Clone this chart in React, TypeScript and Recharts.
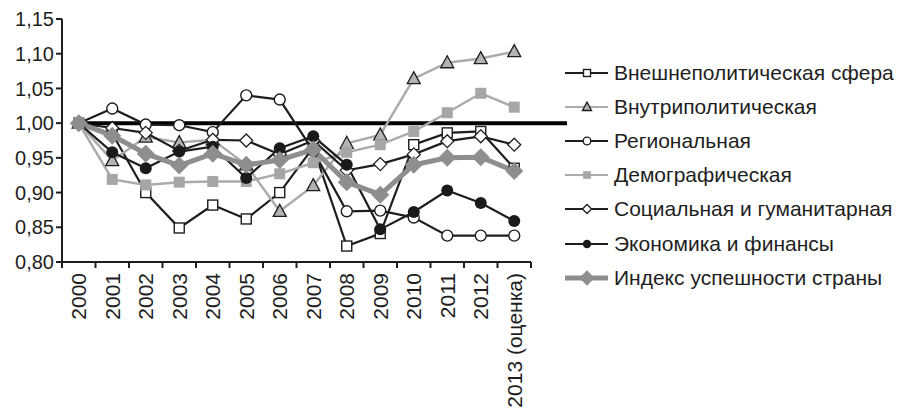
import { LineChart, Line, XAxis, YAxis, ReferenceLine } from 'recharts';

const YEARS = ['2000', '2001', '2002', '2003', '2004', '2005', '2006', '2007', '2008', '2009', '2010', '2011', '2012', '2013 (оценка)'];
const Y_TICKS = [0.8, 0.85, 0.9, 0.95, 1.0, 1.05, 1.1, 1.15];

const FOREIGN = [1.0, 0.985, 0.9, 0.849, 0.882, 0.862, 0.9, 0.965, 0.823, 0.841, 0.969, 0.986, 0.988, 0.935];
const INTERNAL = [1.0, 0.946, 0.98, 0.972, 0.976, 0.94, 0.873, 0.91, 0.971, 0.983, 1.064, 1.087, 1.093, 1.103];
const REGIONAL = [1.0, 1.021, 0.998, 0.997, 0.987, 1.04, 1.034, 0.96, 0.873, 0.874, 0.864, 0.838, 0.838, 0.838];
const DEMOGRAPHIC = [1.0, 0.919, 0.911, 0.915, 0.916, 0.916, 0.927, 0.943, 0.958, 0.969, 0.988, 1.015, 1.043, 1.023];
const SOCIAL = [1.0, 0.993, 0.986, 0.96, 0.976, 0.975, 0.955, 0.975, 0.932, 0.941, 0.955, 0.974, 0.981, 0.969];
const ECONOMY = [1.0, 0.958, 0.935, 0.959, 0.966, 0.921, 0.964, 0.981, 0.94, 0.847, 0.872, 0.903, 0.885, 0.859];
const INDEX = [1.0, 0.982, 0.956, 0.939, 0.956, 0.94, 0.947, 0.962, 0.915, 0.897, 0.94, 0.95, 0.951, 0.931];

type MarkerKind = 'square' | 'triangle' | 'circle' | 'graySquare' | 'diamond' | 'dot' | 'bigDiamond';

const SERIES: { key: string; name: string; values: number[]; color: string; width: number; marker: MarkerKind }[] = [
  { key: 'foreign', name: 'Внешнеполитическая сфера', values: FOREIGN, color: '#1e1e1e', width: 2.2, marker: 'square' },
  { key: 'internal', name: 'Внутриполитическая', values: INTERNAL, color: '#ababab', width: 2.5, marker: 'triangle' },
  { key: 'regional', name: 'Региональная', values: REGIONAL, color: '#1e1e1e', width: 2.2, marker: 'circle' },
  { key: 'demographic', name: 'Демографическая', values: DEMOGRAPHIC, color: '#ababab', width: 2.5, marker: 'graySquare' },
  { key: 'social', name: 'Социальная и гуманитарная', values: SOCIAL, color: '#1e1e1e', width: 2.2, marker: 'diamond' },
  { key: 'economy', name: 'Экономика и финансы', values: ECONOMY, color: '#1e1e1e', width: 2.2, marker: 'dot' },
  { key: 'index', name: 'Индекс успешности страны', values: INDEX, color: '#8e8e8e', width: 5, marker: 'bigDiamond' },
];

const data = YEARS.map((year, i) => {
  const row: Record<string, string | number> = { year };
  SERIES.forEach((s) => {
    row[s.key] = s.values[i];
  });
  return row;
});

const W = 899;
const H = 410;
const MARGIN = { top: 19, right: 368, bottom: 8, left: 0 };
const Y_AXIS_W = 62;
const BAND = (W - MARGIN.right - MARGIN.left - Y_AXIS_W) / YEARS.length;
const FONT = '"Liberation Sans", Arial, sans-serif';

function Marker({ kind, cx, cy, s = 1 }: { kind: MarkerKind; cx: number; cy: number; s?: number }) {
  switch (kind) {
    case 'square':
      return <rect x={cx - 5 * s} y={cy - 5 * s} width={10 * s} height={10 * s} fill="#fff" stroke="#1e1e1e" strokeWidth={1.4} />;
    case 'triangle':
      return (
        <polygon
          points={`${cx},${cy - 7 * s} ${cx - 6.5 * s},${cy + 5 * s} ${cx + 6.5 * s},${cy + 5 * s}`}
          fill="#b3b3b3"
          stroke="#1e1e1e"
          strokeWidth={1.3}
        />
      );
    case 'circle':
      return <circle cx={cx} cy={cy} r={5.5 * s} fill="#fff" stroke="#1e1e1e" strokeWidth={1.4} />;
    case 'graySquare':
      return <rect x={cx - 5.5 * s} y={cy - 5.5 * s} width={11 * s} height={11 * s} fill="#a6a6a6" />;
    case 'diamond':
      return (
        <polygon
          points={`${cx},${cy - 6.5 * s} ${cx + 6.5 * s},${cy} ${cx},${cy + 6.5 * s} ${cx - 6.5 * s},${cy}`}
          fill="#fff"
          stroke="#1e1e1e"
          strokeWidth={1.3}
        />
      );
    case 'dot':
      return <circle cx={cx} cy={cy} r={6 * s} fill="#1a1a1a" />;
    case 'bigDiamond':
      return (
        <polygon
          points={`${cx},${cy - 9 * s} ${cx + 9 * s},${cy} ${cx},${cy + 9 * s} ${cx - 9 * s},${cy}`}
          fill="#8e8e8e"
        />
      );
  }
  return null;
}

function XTick(props: any) {
  const { x, y, payload, index } = props;
  const last = index === YEARS.length - 1;
  return (
    <g>
      <line x1={x - BAND / 2} y1={y} x2={x - BAND / 2} y2={y + 6} stroke="#1e1e1e" strokeWidth={2} />
      {last && <line x1={x + BAND / 2} y1={y} x2={x + BAND / 2} y2={y + 6} stroke="#1e1e1e" strokeWidth={2} />}
      <text
        x={x}
        y={y + 11}
        transform={`rotate(-90, ${x}, ${y + 11})`}
        textAnchor="end"
        dominantBaseline="central"
        fontSize={21}
        fill="#1e1e1e"
      >
        {payload.value}
      </text>
    </g>
  );
}

function ChartLegend() {
  return (
    <div style={{ position: 'absolute', left: 563, top: 55.5, fontFamily: FONT, fontSize: 21, color: '#1e1e1e' }}>
      {SERIES.map((s) => (
        <div key={s.key} style={{ display: 'flex', alignItems: 'center', height: 34.2, whiteSpace: 'nowrap' }}>
          <svg width={46} height={20} style={{ marginRight: 5 }}>
            <line x1={2} y1={10} x2={45} y2={10} stroke={s.color} strokeWidth={s.key === 'index' ? 5 : 2.2} />
            <Marker kind={s.marker} cx={24} cy={10} s={s.key === 'index' ? 0.85 : 0.7} />
          </svg>
          <span>{s.name}</span>
        </div>
      ))}
    </div>
  );
}

export default function App() {
  return (
    <div style={{ position: 'absolute', left: 0, top: 0, width: W, height: H, fontFamily: FONT, background: '#fff' }}>
      <LineChart width={W} height={H} data={data} margin={MARGIN}>
        <ReferenceLine
          y={1}
          shape={(p: any) => (
            <line x1={p.x1 + 10} y1={p.y1} x2={p.x2 + 36} y2={p.y2} stroke="#000" strokeWidth={4} />
          )}
        />
        <XAxis
          dataKey="year"
          interval={0}
          height={140}
          padding={{ left: BAND / 2, right: BAND / 2 }}
          tickLine={false}
          tickSize={0}
          tickMargin={0}
          axisLine={{ stroke: '#1e1e1e', strokeWidth: 2 }}
          tick={<XTick />}
        />
        <YAxis
          width={Y_AXIS_W}
          domain={[0.8, 1.15]}
          ticks={Y_TICKS}
          interval={0}
          allowDataOverflow
          tickFormatter={(v: number) => v.toFixed(2).replace('.', ',')}
          axisLine={{ stroke: '#1e1e1e', strokeWidth: 2 }}
          tickLine={{ stroke: '#1e1e1e', strokeWidth: 2 }}
          tickSize={6}
          tick={{ fontSize: 20, fill: '#1e1e1e' }}
        />
        {SERIES.map((s) => (
          <Line
            key={s.key}
            dataKey={s.key}
            name={s.name}
            stroke={s.color}
            strokeWidth={s.width}
            isAnimationActive={false}
            activeDot={false}
            dot={(p: any) => <Marker key={`${s.key}-${p.index}`} kind={s.marker} cx={p.cx} cy={p.cy} />}
          />
        ))}
      </LineChart>
      <ChartLegend />
    </div>
  );
}
